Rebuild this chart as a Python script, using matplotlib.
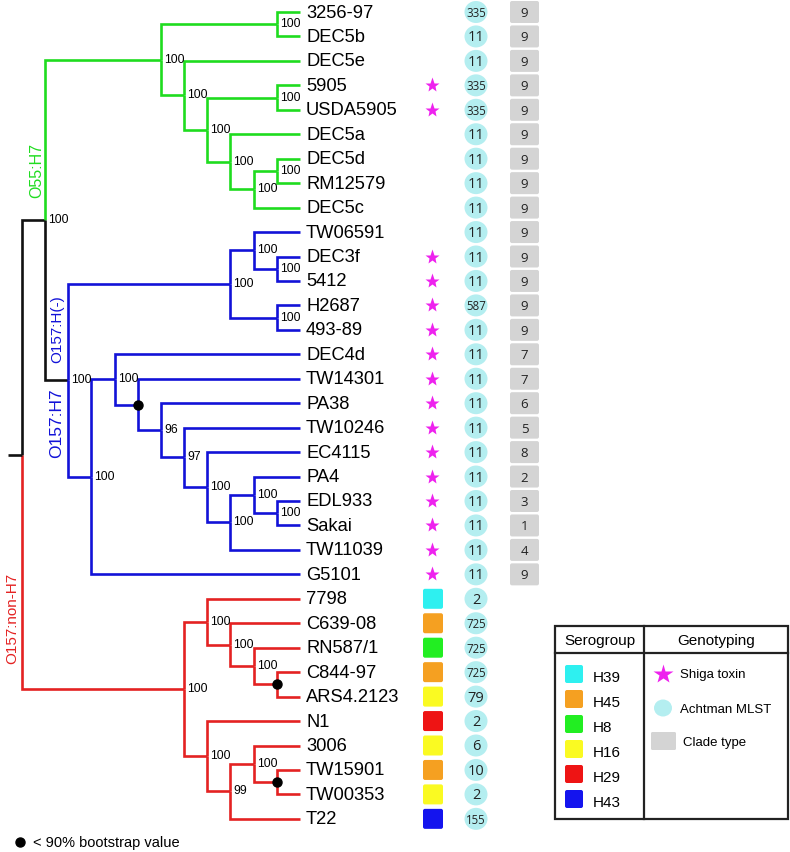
import matplotlib
matplotlib.use("Agg")
import matplotlib.pyplot as plt
from matplotlib.patches import Ellipse, FancyBboxPatch, Rectangle

plt.rcParams['font.family'] = ['Liberation Sans', 'DejaVu Sans']

# ---------------- data ----------------
GREEN, BLUE, RED, BLACK = "#1fdc1f", "#1212d8", "#e42222", "#111111"
LOW = "<90"  # bootstrap below 90% (drawn as black dot)


def N(*children, bs=None, color=None):
    return dict(children=list(children), bs=bs, color=color)


o55 = N(N("3256-97", "DEC5b", bs=100),
        N("DEC5e",
          N(N("5905", "USDA5905", bs=100),
            N("DEC5a",
              N(N("DEC5d", "RM12579", bs=100), "DEC5c", bs=100),
              bs=100),
            bs=100),
          bs=100),
        bs=100, color=GREEN)

h_minus = N(N("TW06591", N("DEC3f", "5412", bs=100), bs=100),
            N("H2687", "493-89", bs=100),
            bs=100, color=BLUE)

h7 = N(N("DEC4d",
         N("TW14301",
           N("PA38",
             N("TW10246",
               N("EC4115",
                 N(N("PA4", N("EDL933", "Sakai", bs=100), bs=100),
                   "TW11039", bs=100),
                 bs=100),
               bs=97),
             bs=96),
           bs=LOW),
         bs=100),
       "G5101", bs=100, color=BLUE)

non_h7 = N(N("7798",
             N("C639-08",
               N("RN587/1", N("C844-97", "ARS4.2123", bs=LOW), bs=100),
               bs=100),
             bs=100),
           N("N1",
             N(N("3006", N("TW15901", "TW00353", bs=LOW), bs=100),
               "T22", bs=99),
             bs=100),
           bs=100, color=RED)

o157 = N(h_minus, h7, bs=100, color=BLACK)
tree = N(N(o55, o157, bs=100, color=BLACK), non_h7, color=BLACK)

shiga = ["5905", "USDA5905", "DEC3f", "5412", "H2687", "493-89", "DEC4d",
         "TW14301", "PA38", "TW10246", "EC4115", "PA4", "EDL933", "Sakai",
         "TW11039", "G5101"]
mlst = [335, 11, 11, 335, 335, 11, 11, 11, 11,
        11, 11, 11, 587, 11,
        11, 11, 11, 11, 11, 11, 11, 11, 11, 11,
        2, 725, 725, 725, 79, 2, 6, 10, 2, 155]
clade = [9, 9, 9, 9, 9, 9, 9, 9, 9,
         9, 9, 9, 9, 9,
         7, 7, 6, 5, 8, 2, 3, 1, 4, 9]
serogroup = ["H39", "H45", "H8", "H45", "H16", "H29", "H16", "H45", "H16", "H43"]
sero_names = ["H39", "H45", "H8", "H16", "H29", "H43"]
sero_colors = ["#2ef0f0", "#f5a021", "#22ee22", "#fafa22", "#ee1414", "#1414ee"]
clade_labels = [("O55:H7", GREEN), ("O157:H(-)", BLUE), ("O157:H7", BLUE),
                ("O157:non-H7", RED)]
geno_labels = ["Shiga toxin", "Achtman MLST", "Clade type"]

# ---------------- layout ----------------
TIP, STEP = 300.0, 23.17
Y0, DY = 13.0, 24.45
LW = 1.9

fig = plt.figure(figsize=(7.9, 8.53), dpi=100)
ax = fig.add_axes([0, 0, 1, 1])
ax.set_xlim(0, 790)
ax.set_ylim(853, 0)
ax.axis('off')

leaves = []


def layout(node):
    if isinstance(node, str):
        y = Y0 + DY * len(leaves)
        leaves.append((node, y))
        return dict(name=node, x=TIP, y=y, h=0)
    kids = [layout(c) for c in node['children']]
    h = max(k['h'] for k in kids) + 1
    return dict(x=TIP - STEP * h, y=(kids[0]['y'] + kids[-1]['y']) / 2, h=h,
                kids=kids, bs=node['bs'], color=node['color'])


root = layout(tree)


def draw(n, color):
    col = n.get('color') or color
    for k in n['kids']:
        kc = k.get('color') or col
        ax.plot([n['x'], n['x'], k['x']], [n['y'], k['y'], k['y']], color=kc,
                lw=LW, solid_joinstyle='miter', solid_capstyle='butt', zorder=2)
        if 'kids' in k:
            draw(k, kc)
    if n['bs'] == LOW:
        ax.plot(n['x'], n['y'], 'o', color='black', ms=6.5, zorder=4)
    elif n['bs'] is not None:
        ax.text(n['x'] + 3, n['y'] - 1, str(n['bs']), fontsize=8.7,
                ha='left', va='center', zorder=3)


draw(root, BLACK)
ax.plot([root['x'] - 14, root['x']], [root['y'], root['y']], color=BLACK,
        lw=LW, solid_capstyle='butt')

# leaf labels and annotation columns
for i, (name, y) in enumerate(leaves):
    ax.text(TIP + 6, y, name, fontsize=13.2, ha='left', va='center')
    if name in shiga:
        ax.plot(432, y, marker='*', color='#ee22ee', ms=11, mec='none')
    ax.add_patch(Ellipse((476, y), 23, 22, color='#b4eef0', lw=0))
    v = mlst[i]
    ax.text(476, y + 0.5, str(v), fontsize=8.3 if v >= 100 else 10.5,
            family='Open Sans', ha='center', va='center', color='#222222')
    if i < len(clade):
        ax.add_patch(FancyBboxPatch((510, y - 11), 29, 22,
                                    boxstyle="round,pad=0,rounding_size=2",
                                    fc='#d4d4d4', ec='none'))
        ax.text(524.5, y + 0.5, str(clade[i]), fontsize=9.5, family='Open Sans',
                ha='center', va='center', color='#222222')
    else:
        sg = serogroup[i - len(clade)]
        c = sero_colors[sero_names.index(sg)]
        ax.add_patch(FancyBboxPatch((423, y - 10), 20, 20,
                                    boxstyle="round,pad=0,rounding_size=2",
                                    fc=c, ec='none'))

# clade labels (rotated)
for (txt, c), (x, y), fs in zip(clade_labels,
                                [(37, 170), (57, 329), (57, 423), (12, 618)],
                                [11.5, 11, 12.5, 11]):
    ax.text(x, y, txt, color=c, rotation=90, fontsize=fs, ha='center', va='center')

# legend box
LEG = dict(lw=1.6, color='#222222')
ax.add_patch(Rectangle((555, 627), 233, 193, fill=False, ec='#222222', lw=1.6))
ax.plot([644, 644], [627, 820], **LEG)
ax.plot([555, 788], [654, 654], **LEG)
ax.text(599.5, 641, "Serogroup", fontsize=11, ha='center', va='center')
ax.text(716, 641, "Genotyping", fontsize=11, ha='center', va='center')
for k, (nm, c) in enumerate(zip(sero_names, sero_colors)):
    yy = 675 + 25 * k
    ax.add_patch(FancyBboxPatch((565, yy - 9), 18, 18,
                                boxstyle="round,pad=0,rounding_size=2",
                                fc=c, ec='none'))
    ax.text(593, yy + 3, nm, fontsize=11, ha='left', va='center')
ax.plot(663, 675, marker='*', color='#ee22ee', ms=15, mec='none')
ax.add_patch(Ellipse((663, 709), 18, 17, color='#b4eef0', lw=0))
ax.add_patch(FancyBboxPatch((651, 733), 25, 18,
                            boxstyle="round,pad=0,rounding_size=1.5",
                            fc='#d4d4d4', ec='none'))
for txt, (x, y) in zip(geno_labels, [(680, 675), (680, 710), (683, 743)]):
    ax.text(x, y, txt, fontsize=9.5, ha='left', va='center')

# footnote
ax.plot(20, 843, 'o', color='black', ms=6.5)
ax.text(33, 843, "< 90% bootstrap value", fontsize=10.5, ha='left', va='center')

fig.savefig("out.png", dpi=100)
